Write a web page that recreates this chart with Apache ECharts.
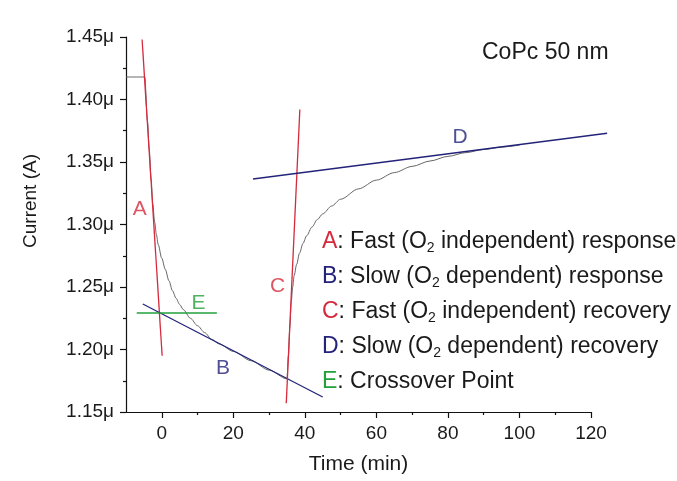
<!DOCTYPE html>
<html>
<head>
<meta charset="utf-8">
<script src="https://cdn.jsdelivr.net/npm/echarts@6/dist/echarts.min.js"></script>
<style>
  html, body { margin: 0; padding: 0; background: #ffffff; }
  #chart { width: 677px; height: 481px; }
</style>
</head>
<body>
<div id="chart"></div>
<script>
// Measured current of the CoPc 50 nm film (time in min, current in µA)
const timeMin = [-10, -4.75, -4, -3.5, -3, -2.5, -2, -1.5, -1, 0, 1, 2, 3, 4, 5, 6, 8, 10, 12, 14,
  16, 20, 25, 30, 35, 35.4, 35.8, 36.2, 36.6, 37, 37.7, 38.5, 39.5, 40.5, 42, 43.5, 45, 47.5, 50,
  55, 60, 65, 70, 75, 80, 85, 90, 95, 100];
const currentMicroA = [1.418, 1.418, 1.383, 1.360, 1.337, 1.316, 1.302, 1.292, 1.284, 1.273, 1.264,
  1.255, 1.247, 1.241, 1.236, 1.232, 1.225, 1.219, 1.2135, 1.208, 1.2045, 1.1985, 1.191, 1.1835,
  1.1765, 1.195, 1.218, 1.238, 1.250, 1.259, 1.268, 1.277, 1.285, 1.291, 1.298, 1.304, 1.3085,
  1.3148, 1.3202, 1.3285, 1.3355, 1.3415, 1.3465, 1.3508, 1.3545, 1.3575, 1.360, 1.362, 1.3635];

// Straight-line fits: [start time, start current, end time, end current]
const fitA = [-5.5, 1.448, 0.1, 1.195];
const fitB = [-5.3, 1.2364, 45, 1.162];
const fitC = [34.8, 1.157, 38.6, 1.392];
const fitD = [25.5, 1.3364, 124.5, 1.373];
const fitE = [-7, 1.2292, 15.4, 1.2292];

// Letter tags placed next to each fit
const tagNames = ['A', 'B', 'C', 'D', 'E'];
const tagPoints = [[-6.15, 1.3124], [17.1, 1.1852], [32.4, 1.2508], [83.4, 1.37], [10.3, 1.2372]];

// Axis ticks
const xTickValues = [0, 20, 40, 60, 80, 100, 120];
const xMinorValues = [10, 30, 50, 70, 90, 110];
const yTickLabels = ['1.15μ', '1.20μ', '1.25μ', '1.30μ', '1.35μ', '1.40μ', '1.45μ'];

// Legend text
const legendKeys = ['A', 'B', 'C', 'D', 'E'];
const legendTexts = [
  ['Fast (O', ' independent) response'],
  ['Slow (O', ' dependent) response'],
  ['Fast (O', ' independent) recovery'],
  ['Slow (O', ' dependent) recovery'],
  ['Crossover Point', null]
];

const RED = '#d42a3c';
const NAVY = '#23237a';
const GREEN = '#22a03a';
const tagColors = { A: RED, B: NAVY, C: RED, D: NAVY, E: GREEN };
const FONT = '"Liberation Sans", Arial, sans-serif';

const chart = echarts.init(document.getElementById('chart'), null, { renderer: 'canvas' });

// a fitted straight line, drawn through the axes and allowed past the axis end
function fitSeries(seg, color) {
  return {
    type: 'custom', clip: false, z: 3, silent: true,
    data: [seg],
    encode: { x: [0, 2], y: [1, 3] },
    renderItem: function (params, api) {
      const p0 = api.coord([api.value(0), api.value(1)]);
      const p1 = api.coord([api.value(2), api.value(3)]);
      return {
        type: 'line',
        shape: { x1: p0[0], y1: p0[1], x2: p1[0], y2: p1[1] },
        style: { stroke: color, lineWidth: 1.3 }
      };
    }
  };
}

const legendGraphics = legendKeys.map((k, i) => {
  const parts = legendTexts[i];
  const txt = parts[1] === null
    ? '{k|' + k + '}{t|: ' + parts[0] + '}'
    : '{k|' + k + '}{t|: ' + parts[0] + '}{s|2}{t|' + parts[1] + '}';
  return {
    type: 'text', left: 322, top: 230 + i * 35,
    style: {
      text: txt,
      rich: {
        k: { fill: tagColors[k], fontSize: 23, fontFamily: FONT },
        t: { fill: '#1a1a1a', fontSize: 23, fontFamily: FONT },
        s: { fill: '#1a1a1a', fontSize: 14, fontFamily: FONT, padding: [13, 0, 0, 0] }
      }
    }
  };
});

const option = {
  backgroundColor: '#ffffff',
  animation: false,
  grid: { left: 126, right: 86, top: 37, bottom: 69 },
  xAxis: [{
    type: 'value', min: -10, max: 120,
    name: 'Time (min)', nameLocation: 'middle', nameGap: 42,
    nameTextStyle: { color: '#1a1a1a', fontSize: 21, fontFamily: FONT },
    axisLine: { show: true, onZero: false, lineStyle: { color: '#111', width: 1.2 } },
    axisTick: { show: true, length: 6, customValues: xTickValues, lineStyle: { color: '#111', width: 1.2 } },
    axisLabel: { show: true, customValues: xTickValues, margin: 12, color: '#1a1a1a', fontSize: 19, fontFamily: FONT },
    splitLine: { show: false }
  }, {
    type: 'value', min: -10, max: 120, position: 'bottom',
    axisLine: { show: false },
    axisTick: { show: true, length: 3, customValues: xMinorValues, lineStyle: { color: '#111', width: 1.2 } },
    axisLabel: { show: false },
    splitLine: { show: false }
  }],
  yAxis: {
    type: 'value', min: 1.15, max: 1.45, interval: 0.05,
    axisLine: { show: true, onZero: false, lineStyle: { color: '#111', width: 1.2 } },
    axisTick: { show: true, length: 6, lineStyle: { color: '#111', width: 1.2 } },
    minorTick: { show: true, splitNumber: 2, length: 3, lineStyle: { color: '#111', width: 1.2 } },
    axisLabel: {
      margin: 12, color: '#1a1a1a', fontSize: 19, fontFamily: FONT,
      formatter: v => yTickLabels[Math.round((v - 1.15) / 0.05)]
    },
    splitLine: { show: false }
  },
  graphic: [
    {
      type: 'text', left: 482, top: 41,
      style: { text: 'CoPc 50 nm', fill: '#1a1a1a', fontSize: 23, fontFamily: FONT }
    },
    {
      type: 'text', x: 31, y: 201, rotation: Math.PI / 2,
      style: { text: 'Current (A)', fill: '#1a1a1a', fontSize: 19, fontFamily: FONT, align: 'center', verticalAlign: 'middle' }
    }
  ].concat(legendGraphics),
  series: [
    {
      type: 'line', name: 'current', symbol: 'none', z: 2,
      data: timeMin.map((t, i) => [t, currentMicroA[i]]),
      smooth: 0.3, smoothMonotone: 'x',
      lineStyle: { color: '#666666', width: 1 }
    },
    fitSeries(fitA, RED),
    fitSeries(fitB, NAVY),
    fitSeries(fitC, RED),
    fitSeries(fitD, NAVY),
    fitSeries(fitE, GREEN),
    {
      type: 'scatter', symbolSize: 0, z: 4, silent: true,
      data: tagPoints.map((p, i) => ({
        value: p, name: tagNames[i],
        label: { color: tagColors[tagNames[i]] }
      })),
      label: {
        show: true, position: 'inside', fontSize: 21, fontFamily: FONT,
        formatter: p => p.name
      }
    }
  ]
};

chart.setOption(option);
</script>
</body>
</html>
